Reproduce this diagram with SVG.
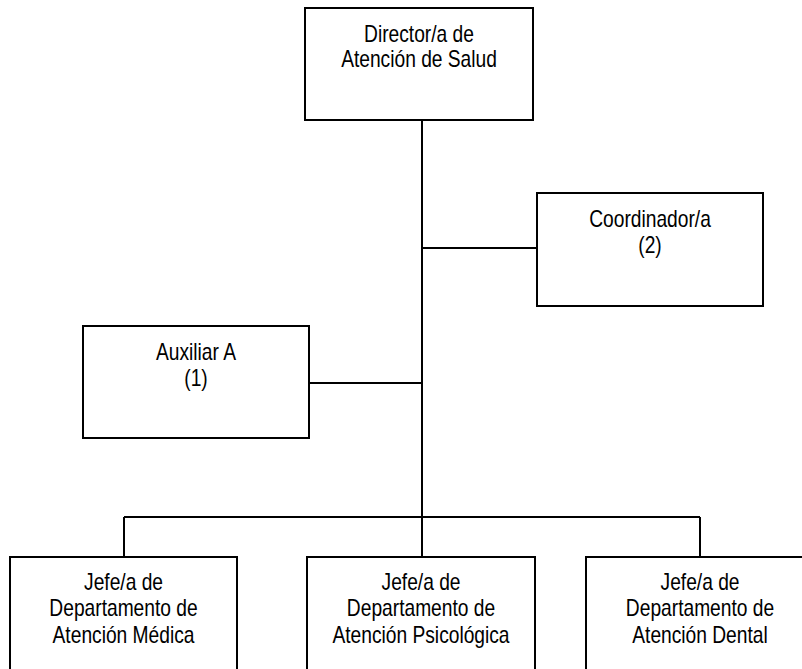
<svg xmlns="http://www.w3.org/2000/svg" width="802" height="669" viewBox="0 0 802 669">
<style>
.box{fill:#fff;stroke:#000;stroke-width:2}
.con{fill:none;stroke:#000;stroke-width:2}
text{font-family:"Liberation Sans",Arial,sans-serif;font-size:24px;fill:#000;text-anchor:middle}
</style>
<rect width="802" height="669" fill="#fff"/>
<g id="connectors">
<line class="con" x1="422" y1="120" x2="422" y2="557"/>
<line class="con" x1="422" y1="248" x2="537" y2="248"/>
<line class="con" x1="309" y1="383" x2="422" y2="383"/>
<line class="con" x1="124" y1="517" x2="700" y2="517"/>
<line class="con" x1="124" y1="517" x2="124" y2="557"/>
<line class="con" x1="700" y1="517" x2="700" y2="557"/>
</g>
<g id="director">
<rect class="box" x="305" y="8" width="228" height="112"/>
<text transform="translate(419,42) scale(0.8,1)">Director/a de</text>
<text transform="translate(419,67) scale(0.8,1)">Atención de Salud</text>
</g>
<g id="coordinador">
<rect class="box" x="537" y="193" width="226" height="113"/>
<text transform="translate(650,227) scale(0.8,1)">Coordinador/a</text>
<text transform="translate(650,253) scale(0.8,1)">(2)</text>
</g>
<g id="auxiliar">
<rect class="box" x="83" y="326" width="226" height="112"/>
<text transform="translate(196,360) scale(0.8,1)">Auxiliar A</text>
<text transform="translate(196,386) scale(0.8,1)">(1)</text>
</g>
<g id="jefe-medica">
<rect class="box" x="10" y="557" width="227" height="130"/>
<text transform="translate(123.5,590) scale(0.8,1)">Jefe/a de</text>
<text transform="translate(123.5,616) scale(0.8,1)">Departamento de</text>
<text transform="translate(123.5,643) scale(0.8,1)">Atención Médica</text>
</g>
<g id="jefe-psicologica">
<rect class="box" x="307" y="557" width="228" height="130"/>
<text transform="translate(421,590) scale(0.8,1)">Jefe/a de</text>
<text transform="translate(421,616) scale(0.8,1)">Departamento de</text>
<text transform="translate(421,643) scale(0.8,1)">Atención Psicológica</text>
</g>
<g id="jefe-dental">
<rect class="box" x="586" y="557" width="228" height="130"/>
<text transform="translate(700,590) scale(0.8,1)">Jefe/a de</text>
<text transform="translate(700,616) scale(0.8,1)">Departamento de</text>
<text transform="translate(700,643) scale(0.8,1)">Atención Dental</text>
</g>
</svg>
